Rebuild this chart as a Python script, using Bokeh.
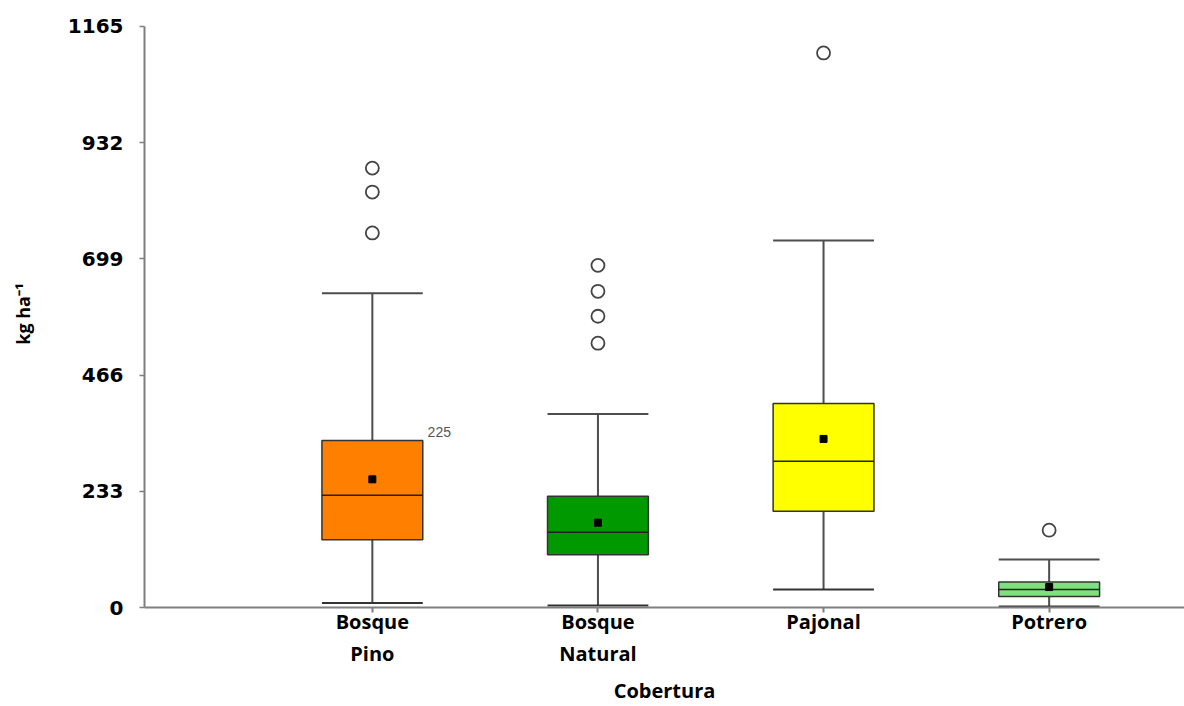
from bokeh.plotting import figure
from bokeh.models import Range1d, FixedTicker, ColumnDataSource
from bokeh.embed import file_html
from bokeh.resources import INLINE
from bokeh.core.properties import value

# ---- data ----
categories = ["Bosque Pino", "Bosque Natural", "Pajonal", "Potrero"]
tick_labels = ["Bosque\nPino", "Bosque\nNatural", "Pajonal", "Potrero"]
positions = [1, 2, 3, 4]
lower_whisker = [9, 4, 36, 2]
q1 = [136, 106, 193, 22]
median = [225, 151, 293, 36]
q3 = [335, 223, 409, 51]
upper_whisker = [630, 388, 736, 96]
mean = [257, 170, 338, 41]
outliers = [[751, 833, 881], [530, 584, 634, 686], [1112], [155]]
colors = ["#FF8000", "#009900", "#FFFF00", "#80E080"]
y_ticks = [0, 233, 466, 699, 932, 1165]
median_note_index = 0  # box that carries the median annotation

BOX_W = 0.447

p = figure(width=1184, height=706, output_backend="svg", toolbar_location=None,
           x_range=Range1d(-0.01, 4.6), y_range=Range1d(0, 1177))
p.min_border_left = 144
p.min_border_right = 0
p.min_border_top = 20
p.min_border_bottom = 99
p.outline_line_color = None
p.xgrid.grid_line_color = None
p.ygrid.grid_line_color = None
p.background_fill_color = "white"
p.border_fill_color = "white"

left = [x - BOX_W / 2 for x in positions]
right = [x + BOX_W / 2 for x in positions]
src = ColumnDataSource(dict(x=positions, left=left, right=right, lw=lower_whisker,
                            q1=q1, med=median, q3=q3, uw=upper_whisker, mean=mean,
                            color=colors))

whisker_col = "#4d4d4d"
# whiskers
p.segment(x0="x", y0="q3", x1="x", y1="uw", source=src, line_color=whisker_col, line_width=2)
p.segment(x0="x", y0="q1", x1="x", y1="lw", source=src, line_color=whisker_col, line_width=2)
p.segment(x0="left", y0="uw", x1="right", y1="uw", source=src, line_color=whisker_col, line_width=2)
p.segment(x0="left", y0="lw", x1="right", y1="lw", source=src, line_color="#333333", line_width=2)
# boxes
p.vbar(x="x", width=BOX_W, bottom="q1", top="q3", source=src, fill_color="color",
       line_color="#333333", line_width=1.5)
p.segment(x0="left", y0="med", x1="right", y1="med", source=src, line_color="#222222", line_width=1.5)
# means
p.scatter(x="x", y="mean", source=src, marker="square", size=7, fill_color="black", line_color="black")
# outliers
ox, oy = [], []
for x, vals in zip(positions, outliers):
    for v in vals:
        ox.append(x)
        oy.append(v)
p.scatter(ox, oy, marker="circle", size=13, fill_color="white", line_color="#444444", line_width=1.8)

# median annotation
p.text(x=[positions[median_note_index] + 0.245], y=[q3[median_note_index]],
       text=[str(median[median_note_index])], text_font=value("Liberation Sans"),
       text_font_size="14px", text_color="#555555", text_baseline="bottom", text_align="left",
       y_offset=-3)

# axes
ax = p.xaxis[0]
ax.ticker = FixedTicker(ticks=positions)
ax.major_label_overrides = {pos: lab for pos, lab in zip(positions, tick_labels)}
ax.axis_label = "Cobertura"
ax.axis_label_text_font = "Open Sans"
ax.axis_label_text_font_style = "bold"
ax.axis_label_text_font_size = "20px"
ax.axis_label_text_color = "black"
ax.axis_label_standoff = 7
ax.major_label_text_font = "Open Sans"
ax.major_label_text_font_style = "bold"
ax.major_label_text_font_size = "20px"
ax.major_label_text_color = "black"
ax.major_label_standoff = -5
ax.axis_line_color = "#7f7f7f"
ax.axis_line_width = 2
ax.major_tick_line_color = "#7f7f7f"
ax.major_tick_line_width = 2
ax.major_tick_in = 0
ax.major_tick_out = 5
ax.minor_tick_line_color = None

ay = p.yaxis[0]
ay.ticker = FixedTicker(ticks=y_ticks)
ay.bounds = (0, 1165)
ay.axis_label = "kg ha\u207b\u00b9"
ay.axis_label_text_font = "Open Sans"
ay.axis_label_text_font_style = "bold"
ay.axis_label_text_font_size = "18px"
ay.axis_label_text_color = "black"
ay.axis_label_standoff = 30
ay.major_label_text_font = "DejaVu Sans"
ay.major_label_text_font_style = "bold"
ay.major_label_text_font_size = "20px"
ay.major_label_text_color = "black"
ay.major_label_standoff = 16
ay.axis_line_color = "#7f7f7f"
ay.axis_line_width = 2
ay.major_tick_line_color = "#7f7f7f"
ay.major_tick_line_width = 1.5
ay.major_tick_in = 0
ay.major_tick_out = 5
ay.minor_tick_line_color = None

open("out.html", "w").write(file_html(p, INLINE))
